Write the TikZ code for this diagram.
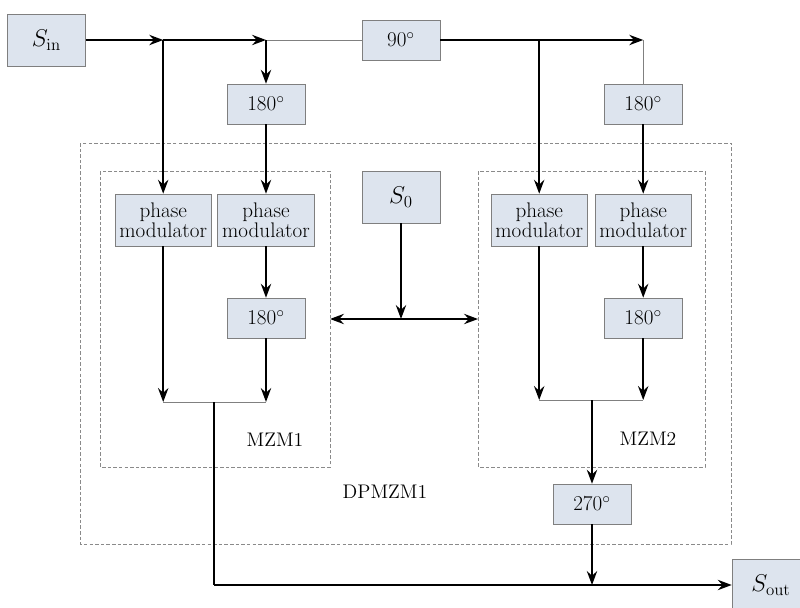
\documentclass[tikz,border=0pt]{standalone}
\usepackage{amsmath}
\usepackage{xcolor}
\usepackage{tikz}
\usetikzlibrary{arrows.meta,positioning}
\definecolor{boxfill}{HTML}{DDE4EE}
\definecolor{boxline}{HTML}{7F7F7F}
\definecolor{dashline}{HTML}{8A8A8A}

\begin{document}
\begin{tikzpicture}[
  every node/.style={font=\fontsize{14}{14}\selectfont},
  box/.style={
    draw=boxline,
    fill=boxfill,
    rectangle,
    align=center,
    inner sep=0pt,
    minimum width=1.95cm,
    minimum height=1cm,
    font=\fontsize{15}{14.5}\selectfont
  },
  modbox/.style={box, minimum width=2.42cm, minimum height=1.3cm},
  srcbox/.style={box, minimum height=1.3cm, font=\fontsize{18}{18}\selectfont},
  sig/.style={-{Stealth[length=3.5mm,width=2.6mm,inset=1.2mm]}, line width=1.3pt},
  wire/.style={line width=1.3pt},
  thinwire/.style={draw=gray, line width=0.6pt},
  frame/.style={draw=dashline, line width=0.6pt, dash pattern=on 2.5pt off 1.5pt}
]

\useasboundingbox (0,0) rectangle (20,-15.175);
\clip (0,0) rectangle (20,-15.175);

% dashed frames
\draw[frame] (2.0,-3.575) rectangle (18.275,-13.6);
\draw[frame] (2.5,-4.275) rectangle (8.25,-11.675);
\draw[frame] (11.95,-4.275) rectangle (17.625,-11.675);

\node (lblA) at (6.875,-11.0) {MZM1};
\node (lblB) at (16.2,-10.975) {MZM2};
\node (lblC) at (9.625,-12.3) {DPMZM1};

% blocks
\node[srcbox] (sin) at (1.16,-1.0) {$S_{\mathrm{in}}$};
\node[box] (ph90) at (10.025,-1.0) {90$^\circ$};
\node[box] (ph180a) at (6.65,-2.6) {180$^\circ$};
\node[box] (ph180b) at (16.08,-2.6) {180$^\circ$};

\node[modbox] (pm1) at (4.08,-5.5) {phase\\modulator};
\node[modbox] (pm2) at (6.65,-5.5) {phase\\modulator};
\node[modbox] (pm3) at (13.48,-5.5) {phase\\modulator};
\node[modbox] (pm4) at (16.08,-5.5) {phase\\modulator};

\node[srcbox] (szero) at (10.025,-4.925) {$S_{0}$};
\node[box] (ph180c) at (6.65,-7.95) {180$^\circ$};
\node[box] (ph180d) at (16.08,-7.95) {180$^\circ$};
\node[box] (ph270) at (14.8,-12.6) {270$^\circ$};
\node[srcbox] (sout) at (19.275,-14.625) {$S_{\mathrm{out}}$};

% junctions
\coordinate (ja) at (4.08,-1.0);
\coordinate (jb) at (6.65,-1.0);
\coordinate (jc) at (13.48,-1.0);
\coordinate (jd) at (16.08,-1.0);
\coordinate (ma) at (4.08,-10.05);
\coordinate (mb) at (6.65,-10.05);
\coordinate (mc) at (5.35,-10.05);
\coordinate (na) at (13.48,-10.0);
\coordinate (nb) at (16.08,-10.0);
\coordinate (nc) at (14.8,-10.0);
\coordinate (oa) at (5.35,-14.625);
\coordinate (ob) at (14.8,-14.625);
\coordinate (sj) at (10.025,-7.975);
\coordinate (sl) at (8.25,-7.975);
\coordinate (sr) at (11.95,-7.975);

% input side
\draw[sig] (sin) -- (ja);
\draw[sig] (ja) -- (jb);
\draw[thinwire] (jb) -- (ph90);
\draw[sig] (ja) -- (pm1);
\draw[sig] (jb) -- (ph180a);
\draw[sig] (ph180a) -- (pm2);
\draw[wire] (ph90) -- (jc);
\draw[sig] (jc) -- (jd);
\draw[sig] (jc) -- (pm3);
\draw[thinwire] (jd) -- (ph180b);
\draw[sig] (ph180b) -- (pm4);

% MZM1
\draw[sig] (pm2) -- (ph180c);
\draw[sig] (pm1) -- (ma);
\draw[sig] (ph180c) -- (mb);
\draw[thinwire] (ma) -- (mb);

% MZM2
\draw[sig] (pm4) -- (ph180d);
\draw[sig] (pm3) -- (na);
\draw[sig] (ph180d) -- (nb);
\draw[thinwire] (na) -- (nb);

% bias
\draw[sig] (szero) -- (sj);
\draw[sig] (sj) -- (sl);
\draw[sig] (sj) -- (sr);

% output side
\draw[sig] (nc) -- (ph270);
\draw[sig] (ph270) -- (ob);
\draw[wire] (mc) -- (oa);
\draw[wire] (oa) -- (ob);
\draw[sig] (ob) -- (sout);

\end{tikzpicture}
\end{document}
